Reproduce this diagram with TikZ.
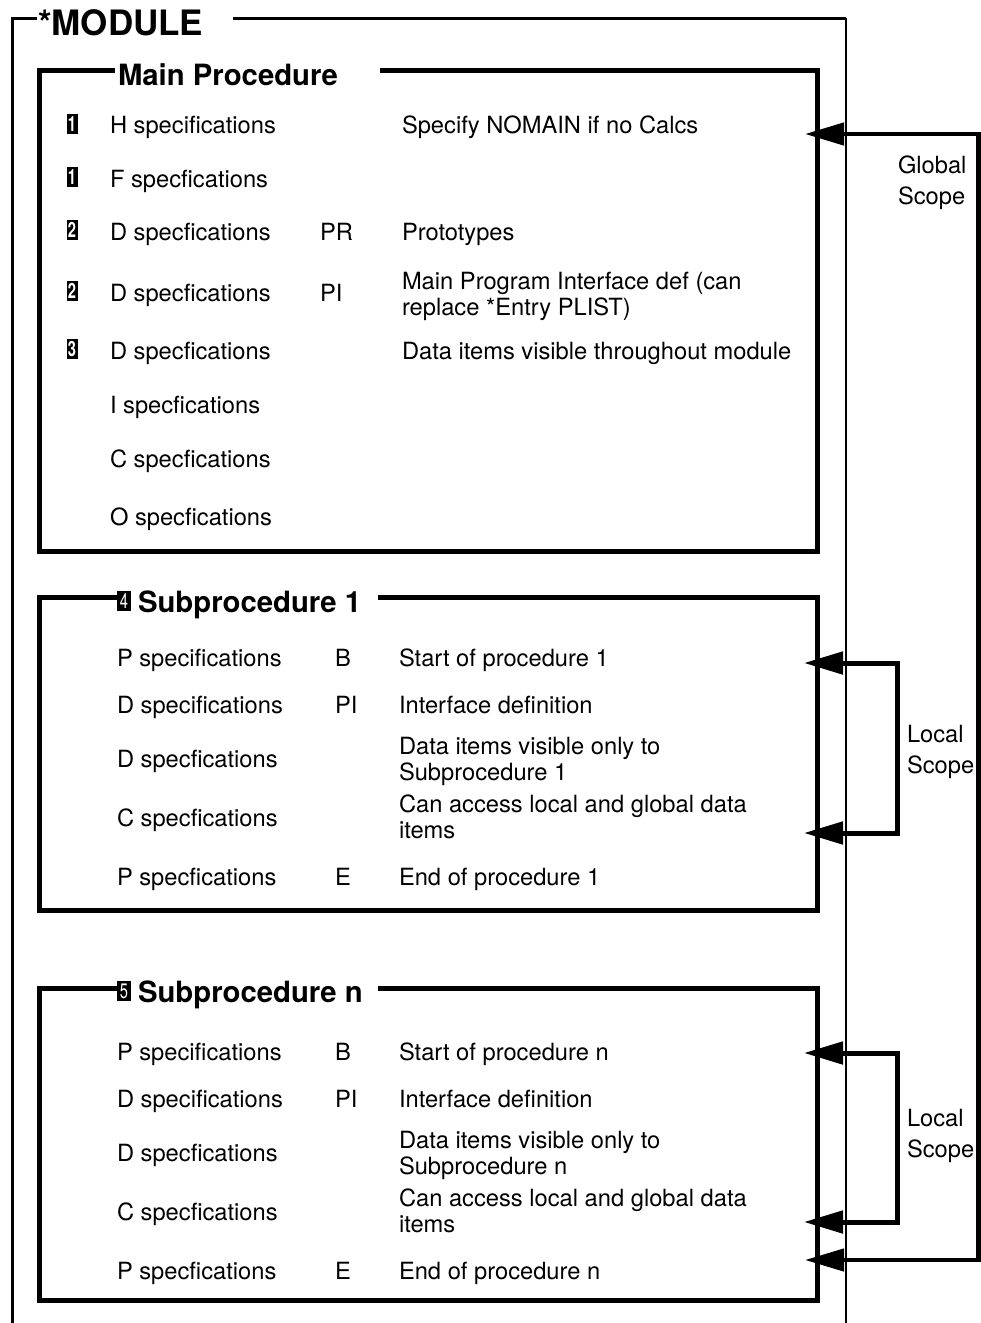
\documentclass[tikz,border=0pt]{standalone}
\usepackage{fontspec}
\usepackage{graphicx}
\setmainfont{TeX Gyre Heros}
\usetikzlibrary{arrows.meta}
\newcommand{\mytwo}[2]{\begin{tabular}[t]{@{}l@{}}#1\\#2\end{tabular}}
\newcommand{\mytwoS}[2]{\begin{tabular}[t]{@{}l@{}}#1\\[5pt]#2\end{tabular}}
\newcommand{\mynum}[1]{\scalebox{0.7}[1]{#1}}
\begin{document}
\begin{tikzpicture}[x=1pt,y=-1pt,
  every node/.style={inner sep=0pt, outer sep=0pt},
  txt/.style={anchor=base west, font=\fontsize{23.7}{26}\selectfont},
  ttl/.style={anchor=base west, font=\fontsize{29.3}{32}\selectfont\bfseries},
  mttl/.style={anchor=base west, font=\fontsize{35}{38}\selectfont\bfseries},
  badge/.style={fill=black, text=white, minimum width=11pt, minimum height=20pt, font=\fontsize{21}{21}\selectfont\bfseries},
  badgeb/.style={badge, minimum width=14pt, minimum height=20pt, font=\fontsize{21}{21}\selectfont},
  boxarea/.style={draw=none, minimum width=778.5pt},
  boxline/.style={line width=5pt, line join=miter},
  modline/.style={line width=3pt},
  modrline/.style={line width=1.6pt},
  scopearrow/.style={line width=5pt, line join=miter, {Triangle[length=39pt,width=22pt]}-{Triangle[length=39pt,width=22pt]}},
  globarrow/.style={line width=4.5pt, line join=miter, {Triangle[length=39pt,width=22pt]}-{Triangle[length=39pt,width=22pt]}}
]
\useasboundingbox (0,0) rectangle (981,1323);

% module frame
\node[mttl] (module) at (38,35) {*MODULE};
\draw[modline] (37,18) -- (12,18) -- (12,1323);
\draw[modline] (233,18) -- (846,18);
\draw[modrline] (846,18) -- (846,1323);

% boxes
\node[boxarea, minimum height=481pt] (main) at (428.25,310.5) {};
\node[boxarea, minimum height=312.5pt] (sub1) at (428.25,753.75) {};
\node[boxarea, minimum height=312.5pt] (subn) at (428.25,1144.25) {};

\draw[boxline] ([xshift=76pt]main.north west) -- (main.north west) -- (main.south west) -- (main.south east) -- (main.north east) -- ([xshift=341pt]main.north west);
\draw[boxline] ([xshift=80pt]sub1.north west) -- (sub1.north west) -- (sub1.south west) -- (sub1.south east) -- (sub1.north east) -- ([xshift=339pt]sub1.north west);
\draw[boxline] ([xshift=80pt]subn.north west) -- (subn.north west) -- (subn.south west) -- (subn.south east) -- (subn.north east) -- ([xshift=339pt]subn.north west);

% titles
\node[ttl] (mainttl) at (118,85.5) {Main Procedure};
\node[badgeb] (b4) at (124,601) {\mynum{4}};
\node[ttl] (sub1ttl) at (138,612) {Subprocedure 1};
\node[badgeb] (b5) at (124,991) {\mynum{5}};
\node[ttl] (subnttl) at (138,1002) {Subprocedure n};

% main procedure rows
\node[badge] (m1b) at (72,124) {\mynum{1}};
\node[txt] (m1a) at (110,133) {H specifications};
\node[txt] (m1c) at (402,133) {Specify NOMAIN if no Calcs};
\node[badge] (m2b) at (72,177) {\mynum{1}};
\node[txt] (m2a) at (110,187) {F specfications};
\node[badge] (m3b) at (72,230) {\mynum{2}};
\node[txt] (m3a) at (110,240) {D specfications};
\node[txt] (m3p) at (320,240) {PR};
\node[txt] (m3c) at (402,240) {Prototypes};
\node[badge] (m4b) at (72,291) {\mynum{2}};
\node[txt] (m4a) at (110,301) {D specfications};
\node[txt] (m4p) at (320,301) {PI};
\node[txt] (m4c) at (402,289) {\mytwo{Main Program Interface def (can}{replace *Entry PLIST)}};
\node[badge] (m5b) at (72,349) {\mynum{3}};
\node[txt] (m5a) at (110,359) {D specfications};
\node[txt] (m5c) at (402,359) {Data items visible throughout module};
\node[txt] (m6a) at (110,413) {I specfications};
\node[txt] (m7a) at (110,467) {C specfications};
\node[txt] (m8a) at (110,525) {O specfications};

% subprocedure 1 rows
\node[txt] (s1a) at (117,666) {P specifications};
\node[txt] (s1p) at (335,666) {B};
\node[txt] (s1c) at (399,666) {Start of procedure 1};
\node[txt] (s2a) at (117,713) {D specifications};
\node[txt] (s2p) at (335,713) {PI};
\node[txt] (s2c) at (399,713) {Interface definition};
\node[txt] (s3a) at (117,767) {D specfications};
\node[txt] (s3c) at (399,754) {\mytwo{Data items visible only to}{Subprocedure 1}};
\node[txt] (s4a) at (117,826) {C specfications};
\node[txt] (s4c) at (399,812) {\mytwo{Can access local and global data}{items}};
\node[txt] (s5a) at (117,885) {P specfications};
\node[txt] (s5p) at (335,885) {E};
\node[txt] (s5c) at (399,885) {End of procedure 1};

% subprocedure n rows
\node[txt] (n1a) at (117,1060) {P specifications};
\node[txt] (n1p) at (335,1060) {B};
\node[txt] (n1c) at (399,1060) {Start of procedure n};
\node[txt] (n2a) at (117,1107) {D specifications};
\node[txt] (n2p) at (335,1107) {PI};
\node[txt] (n2c) at (399,1107) {Interface definition};
\node[txt] (n3a) at (117,1161) {D specfications};
\node[txt] (n3c) at (399,1148) {\mytwo{Data items visible only to}{Subprocedure n}};
\node[txt] (n4a) at (117,1220) {C specfications};
\node[txt] (n4c) at (399,1206) {\mytwo{Can access local and global data}{items}};
\node[txt] (n5a) at (117,1279) {P specfications};
\node[txt] (n5p) at (335,1279) {E};
\node[txt] (n5c) at (399,1279) {End of procedure n};

% scope arrows
\coordinate (gtop) at (805,134);
\coordinate (gbot) at (805,1260);
\coordinate (l1a) at (804,663);
\coordinate (l1b) at (804,833);
\coordinate (lna) at (804,1053);
\coordinate (lnb) at (804,1222);
\draw[globarrow] (gtop) -- (978.5,134) -- (978.5,1260) -- (gbot);
\draw[scopearrow] (l1a) -- (897,663) -- (897,833) -- (l1b);
\draw[scopearrow] (lna) -- (897,1053) -- (897,1222) -- (lnb);

\node[txt] (glbl) at (898,173.5) {\mytwoS{Global}{Scope}};
\node[txt] (l1lbl) at (907,742.5) {\mytwoS{Local}{Scope}};
\node[txt] (lnlbl) at (907,1126.5) {\mytwoS{Local}{Scope}};
\end{tikzpicture}
\end{document}
